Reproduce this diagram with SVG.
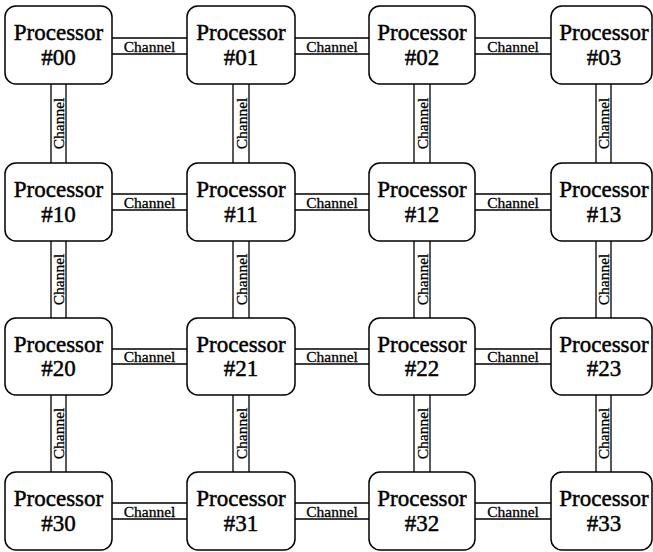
<svg xmlns="http://www.w3.org/2000/svg" width="653" height="552" viewBox="0 0 653 552">
<style>
.box{fill:#fff;stroke:#000;stroke-width:1.5}
.ch{fill:none;stroke:#000;stroke-width:1.3}
.nt{font-family:"Liberation Serif","Times New Roman",serif;font-size:23px;text-anchor:middle;fill:#000;stroke:#000;stroke-width:0.45}
.ct{font-family:"Liberation Serif","Times New Roman",serif;font-size:15.5px;text-anchor:middle;fill:#000;stroke:#000;stroke-width:0.3}
</style>
<rect width="653" height="552" fill="#fff"/>
<g id="connectors">
<g><path class="ch" d="M112 38H187M112 54H187"/><text class="ct" x="149.5" y="52">Channel</text></g>
<g><path class="ch" d="M295 38H369M295 54H369"/><text class="ct" x="332" y="52">Channel</text></g>
<g><path class="ch" d="M475 38H551M475 54H551"/><text class="ct" x="513" y="52">Channel</text></g>
<g><path class="ch" d="M112 194H187M112 210H187"/><text class="ct" x="149.5" y="208">Channel</text></g>
<g><path class="ch" d="M295 194H369M295 210H369"/><text class="ct" x="332" y="208">Channel</text></g>
<g><path class="ch" d="M475 194H551M475 210H551"/><text class="ct" x="513" y="208">Channel</text></g>
<g><path class="ch" d="M112 349H187M112 364H187"/><text class="ct" x="149.5" y="362">Channel</text></g>
<g><path class="ch" d="M295 349H369M295 364H369"/><text class="ct" x="332" y="362">Channel</text></g>
<g><path class="ch" d="M475 349H551M475 364H551"/><text class="ct" x="513" y="362">Channel</text></g>
<g><path class="ch" d="M112 503H187M112 519H187"/><text class="ct" x="149.5" y="517">Channel</text></g>
<g><path class="ch" d="M295 503H369M295 519H369"/><text class="ct" x="332" y="517">Channel</text></g>
<g><path class="ch" d="M475 503H551M475 519H551"/><text class="ct" x="513" y="517">Channel</text></g>
<g><path class="ch" d="M51 84V163M66 84V163"/><text class="ct" transform="translate(64 123.5) rotate(-90)">Channel</text></g>
<g><path class="ch" d="M51 241V318M66 241V318"/><text class="ct" transform="translate(64 279.5) rotate(-90)">Channel</text></g>
<g><path class="ch" d="M51 395V472M66 395V472"/><text class="ct" transform="translate(64 433.5) rotate(-90)">Channel</text></g>
<g><path class="ch" d="M233 84V163M249 84V163"/><text class="ct" transform="translate(247 123.5) rotate(-90)">Channel</text></g>
<g><path class="ch" d="M233 241V318M249 241V318"/><text class="ct" transform="translate(247 279.5) rotate(-90)">Channel</text></g>
<g><path class="ch" d="M233 395V472M249 395V472"/><text class="ct" transform="translate(247 433.5) rotate(-90)">Channel</text></g>
<g><path class="ch" d="M414 84V163M430 84V163"/><text class="ct" transform="translate(428 123.5) rotate(-90)">Channel</text></g>
<g><path class="ch" d="M414 241V318M430 241V318"/><text class="ct" transform="translate(428 279.5) rotate(-90)">Channel</text></g>
<g><path class="ch" d="M414 395V472M430 395V472"/><text class="ct" transform="translate(428 433.5) rotate(-90)">Channel</text></g>
<g><path class="ch" d="M596 84V163M611 84V163"/><text class="ct" transform="translate(609 123.5) rotate(-90)">Channel</text></g>
<g><path class="ch" d="M596 241V318M611 241V318"/><text class="ct" transform="translate(609 279.5) rotate(-90)">Channel</text></g>
<g><path class="ch" d="M596 395V472M611 395V472"/><text class="ct" transform="translate(609 433.5) rotate(-90)">Channel</text></g>
</g>
<g id="n00"><rect class="box" x="5" y="6" width="107" height="78" rx="11"/><text class="nt" x="58.5" y="40">Processor</text><text class="nt" x="58.5" y="65">#00</text></g>
<g id="n01"><rect class="box" x="187" y="6" width="108" height="78" rx="11"/><text class="nt" x="241" y="40">Processor</text><text class="nt" x="241" y="65">#01</text></g>
<g id="n02"><rect class="box" x="369" y="6" width="106" height="78" rx="11"/><text class="nt" x="422" y="40">Processor</text><text class="nt" x="422" y="65">#02</text></g>
<g id="n03"><rect class="box" x="551" y="6" width="101" height="78" rx="11"/><text class="nt" x="604" y="40">Processor</text><text class="nt" x="604" y="65">#03</text></g>
<g id="n10"><rect class="box" x="5" y="163" width="107" height="78" rx="11"/><text class="nt" x="58.5" y="197">Processor</text><text class="nt" x="58.5" y="222">#10</text></g>
<g id="n11"><rect class="box" x="187" y="163" width="108" height="78" rx="11"/><text class="nt" x="241" y="197">Processor</text><text class="nt" x="241" y="222">#11</text></g>
<g id="n12"><rect class="box" x="369" y="163" width="106" height="78" rx="11"/><text class="nt" x="422" y="197">Processor</text><text class="nt" x="422" y="222">#12</text></g>
<g id="n13"><rect class="box" x="551" y="163" width="101" height="78" rx="11"/><text class="nt" x="604" y="197">Processor</text><text class="nt" x="604" y="222">#13</text></g>
<g id="n20"><rect class="box" x="5" y="318" width="107" height="77" rx="11"/><text class="nt" x="58.5" y="352">Processor</text><text class="nt" x="58.5" y="376">#20</text></g>
<g id="n21"><rect class="box" x="187" y="318" width="108" height="77" rx="11"/><text class="nt" x="241" y="352">Processor</text><text class="nt" x="241" y="376">#21</text></g>
<g id="n22"><rect class="box" x="369" y="318" width="106" height="77" rx="11"/><text class="nt" x="422" y="352">Processor</text><text class="nt" x="422" y="376">#22</text></g>
<g id="n23"><rect class="box" x="551" y="318" width="101" height="77" rx="11"/><text class="nt" x="604" y="352">Processor</text><text class="nt" x="604" y="376">#23</text></g>
<g id="n30"><rect class="box" x="5" y="472" width="107" height="78" rx="11"/><text class="nt" x="58.5" y="506">Processor</text><text class="nt" x="58.5" y="531">#30</text></g>
<g id="n31"><rect class="box" x="187" y="472" width="108" height="78" rx="11"/><text class="nt" x="241" y="506">Processor</text><text class="nt" x="241" y="531">#31</text></g>
<g id="n32"><rect class="box" x="369" y="472" width="106" height="78" rx="11"/><text class="nt" x="422" y="506">Processor</text><text class="nt" x="422" y="531">#32</text></g>
<g id="n33"><rect class="box" x="551" y="472" width="101" height="78" rx="11"/><text class="nt" x="604" y="506">Processor</text><text class="nt" x="604" y="531">#33</text></g>
</svg>
